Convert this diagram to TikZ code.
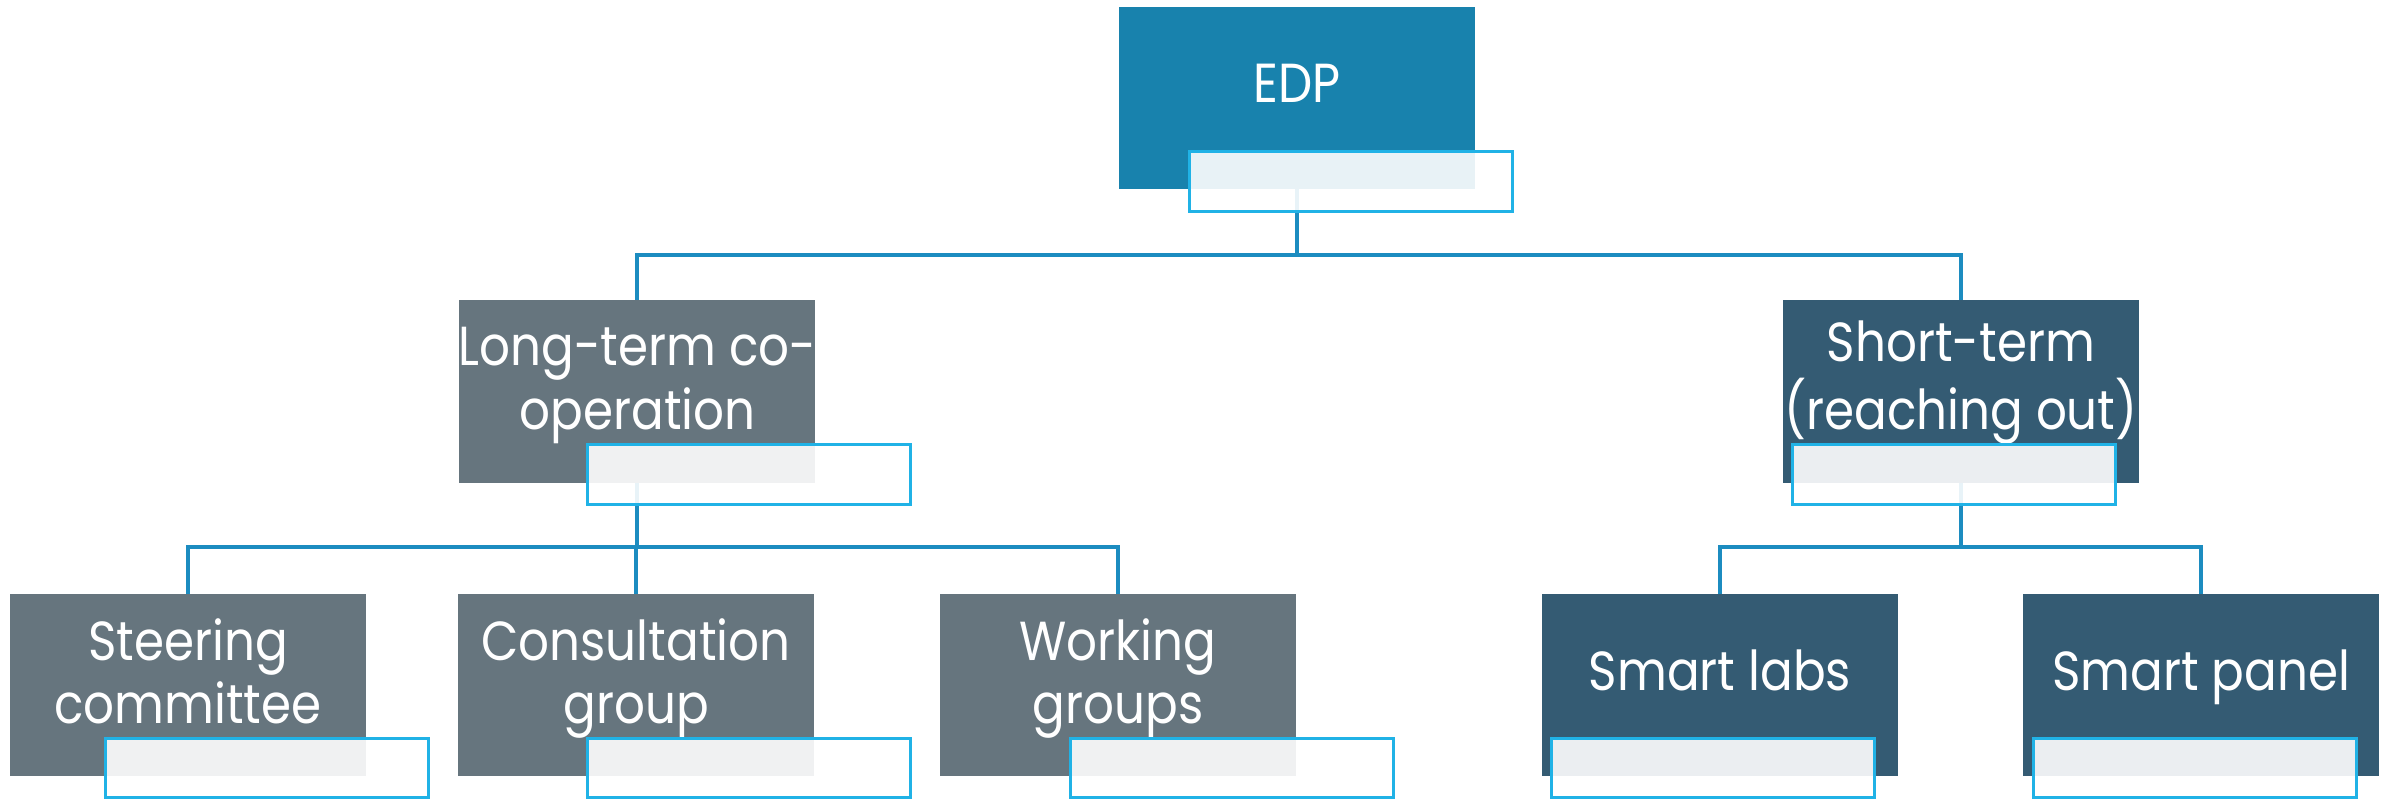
\documentclass[tikz,border=0pt]{standalone}
\usepackage{fontspec}
\setmainfont{Poppins}[FakeStretch=0.88]
\definecolor{edpblue}{RGB}{24,130,173}
\definecolor{greybox}{RGB}{102,117,126}
\definecolor{navybox}{RGB}{52,91,115}
\definecolor{connblue}{RGB}{28,140,192}
\definecolor{ovblue}{RGB}{32,178,230}
\newcommand{\lnstrut}{\rule[-16pt]{0pt}{59pt}}
\begin{document}
\begin{tikzpicture}[x=1pt,y=-1pt,
  box/.style={rectangle, inner sep=0pt, outer sep=0pt, minimum width=356pt, minimum height=182pt, anchor=north west},
  ov/.style={rectangle, inner sep=0pt, outer sep=0pt, minimum width=323pt, minimum height=60pt, anchor=north west, draw=ovblue, line width=3pt, fill=white, fill opacity=0.9},
  ovb/.style={ov, minimum height=59pt},
  lbl/.style={text=white, font=\fontsize{55}{63}\selectfont, align=center, inner sep=0pt},
  conn/.style={draw=connblue, line width=3.5pt}]
\useasboundingbox (0,0) rectangle (2394,799);
% boxes
\node[box, fill=edpblue] (edp) at (1119,7) {};
\node[box, fill=greybox, minimum height=183pt] (lt) at (459,300) {};
\node[box, fill=navybox, minimum height=183pt] (st) at (1783,300) {};
\node[box, fill=greybox] (sc) at (10,594) {};
\node[box, fill=greybox] (cg) at (458,594) {};
\node[box, fill=greybox] (wg) at (940,594) {};
\node[box, fill=navybox] (sl) at (1542,594) {};
\node[box, fill=navybox] (sp) at (2023,594) {};
% labels
\node[lbl] (edpt) at (1297,89.5) {\lnstrut EDP};
\node[lbl] (ltt) at (637.5,384) {\lnstrut Long-term co-\\\lnstrut operation};
\node[lbl] (stt) at (1961,382) {\lnstrut Short-term\\\lnstrut (reaching out)};
\node[lbl] (sct) at (188,678) {\lnstrut Steering\\\lnstrut committee};
\node[lbl] (cgt) at (636,678) {\lnstrut Consultation\\\lnstrut group};
\node[lbl] (wgt) at (1118,678) {\lnstrut Working\\\lnstrut groups};
\node[lbl] (slt) at (1720,677) {\lnstrut Smart labs};
\node[lbl] (spt) at (2201,677) {\lnstrut Smart panel};
% connectors
\coordinate (bus1) at (0,255);
\coordinate (bus2) at (0,547);
\draw[conn] (edp.south) -- (edp.south |- bus1);
\draw[conn] (lt.north) |- (edp.south |- bus1) -| (st.north);
\draw[conn] (lt.south) -- (lt.south |- bus2);
\draw[conn] (sc.north) |- (lt.south |- bus2) -| (wg.north);
\draw[conn] (cg.north) -- (cg.north |- bus2);
\draw[conn] (st.south) -- (st.south |- bus2);
\draw[conn] (sl.north) |- (st.south |- bus2) -| (sp.north);
% overlays
\node[ov] (edpo) at (1189.5,151.5) {};
\node[ov] (lto) at (587.5,444.5) {};
\node[ov] (sto) at (1792.5,444.5) {};
\node[ovb] (sco) at (105,738.5) {};
\node[ovb] (cgo) at (587.5,738.5) {};
\node[ovb] (wgo) at (1070,738.5) {};
\node[ovb] (slo) at (1551,738.5) {};
\node[ovb] (spo) at (2033,738.5) {};
\end{tikzpicture}
\end{document}
